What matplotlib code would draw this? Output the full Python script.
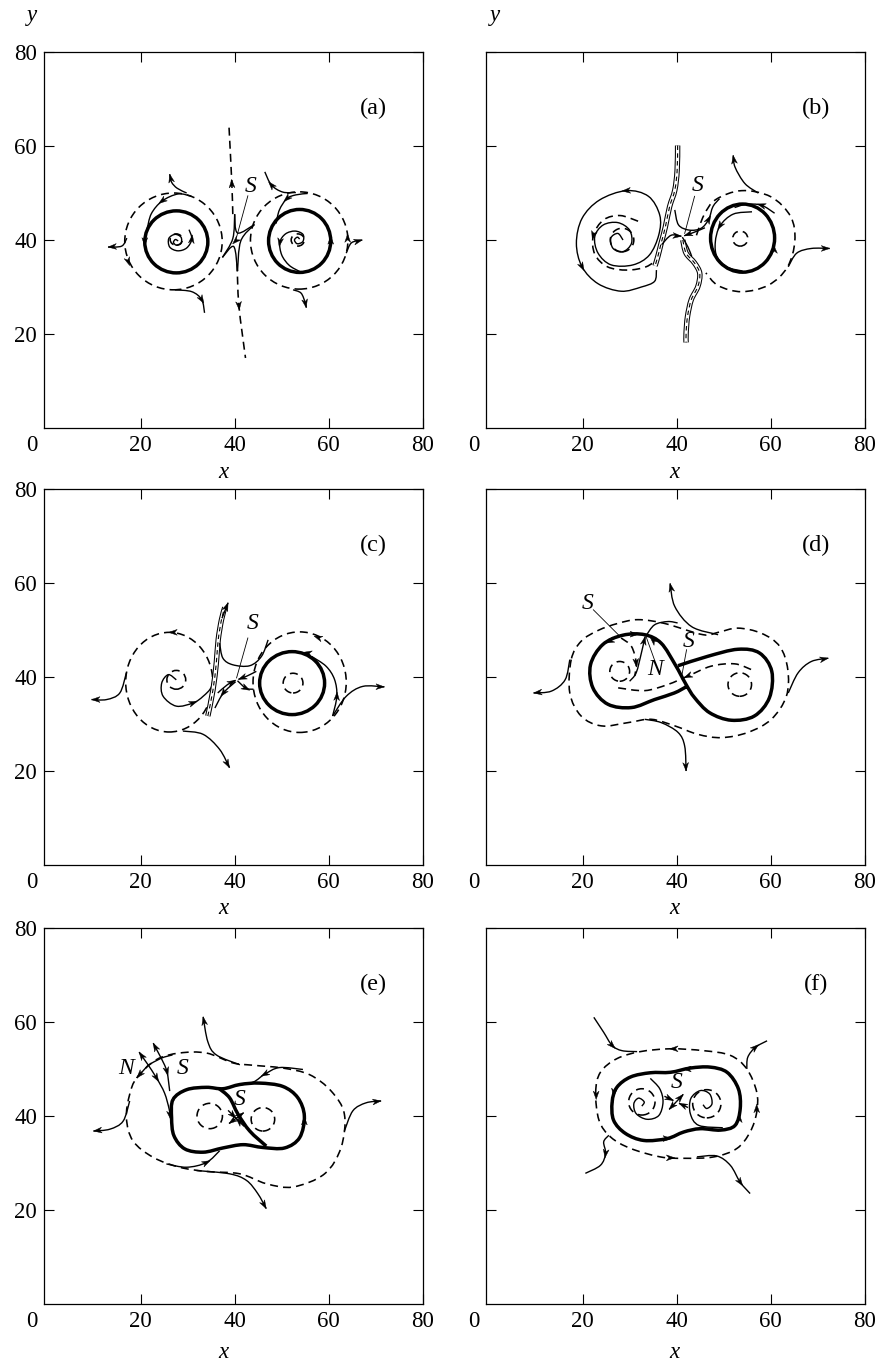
import numpy as np
import matplotlib
matplotlib.use("Agg")
import matplotlib.pyplot as plt
from matplotlib.path import Path
from matplotlib.patches import PathPatch, Ellipse, Polygon

plt.rcParams["font.family"] = ["Liberation Serif", "DejaVu Serif"]

# ---------------------------------------------------------------- panel (a)
a_rings = [
    (27.6, 39.6, 13.4, 13.2, "thick"),
    (27.0, 39.7, 20.7, 20.6, "dash"),
    (27.6, 40.1, 2.6, 2.4, "dash"),
    (53.8, 39.8, 13.2, 13.4, "thick"),
    (53.7, 39.9, 20.7, 20.7, "dash"),
    (53.4, 40.0, 2.8, 2.6, "dash"),
]
a_lines = [
    ([(30.8, 49.3), (28.0, 49.8), (24.6, 48.3), (22.3, 45.6), (21.4, 42.3)], "thin", [2]),
    ([(29.8, 50.0), (27.8, 51.0), (26.6, 52.3), (26.2, 54.0)], "thin", [3]),
    ([(17.1, 40.4), (16.0, 38.7), (13.1, 38.5)], "thin", [2]),
    ([(27.3, 29.4), (30.9, 29.0), (33.0, 27.3), (33.6, 24.5)], "thin", [2]),
    ([(28.0, 39.8), (27.4, 40.1), (27.0, 39.5), (27.6, 38.9), (28.6, 39.3), (28.6, 40.6),
      (27.3, 41.2), (26.0, 40.3), (26.2, 38.5), (27.9, 37.7), (29.8, 38.3), (30.9, 40.2),
      (30.3, 42.2)], "thin", [11]),
    ([(39.6, 45.5), (39.4, 52.0), (38.8, 64.0)], "dash", [1]),
    ([(40.5, 35.0), (40.9, 26.0), (42.3, 14.9)], "dash", [1]),
    ([(40.0, 45.5), (40.6, 41.5), (44.2, 43.3)], "thin", []),
    ([(44.2, 43.3), (41.3, 39.8), (40.6, 33.4)], "thin", []),
    ([(40.6, 33.4), (39.8, 38.6), (37.4, 36.3)], "thin", []),
    ([(37.4, 36.3), (39.6, 40.3), (40.0, 45.5)], "thin", []),
    ([(55.5, 49.9), (53.0, 49.6), (51.1, 48.8), (49.5, 46.4), (48.8, 43.5)], "thin", [2]),
    ([(53.0, 50.1), (50.2, 50.2), (47.8, 51.7), (46.4, 54.5)], "thin", [2]),
    ([(63.7, 37.2), (64.8, 39.4), (67.1, 40.0)], "thin", [2]),
    ([(52.4, 29.4), (54.1, 28.7), (55.0, 26.6), (55.2, 25.6)], "thin", [3]),
    ([(53.8, 40.2), (53.3, 40.6), (52.7, 40.0), (53.3, 39.2), (54.5, 39.7), (54.5, 41.2),
      (52.8, 41.9), (50.8, 41.3), (49.6, 39.5), (50.0, 36.8), (51.6, 34.6), (53.8, 33.3)],
     "thin", [8]),
]
a_heads = [(20.9, 39.6, 270), (17.4, 35.4, 290), (60.4, 40.0, 90), (64.0, 40.4, 90),
           (40.2, 39.8, 225)]
a_letters = [(43.3, 51.3, "S")]
a_leaders = [[(42.8, 49.4), (40.4, 40.6)]]

# ---------------------------------------------------------------- panel (b)
b_rings = [
    (28.4, 40.0, 5.0, 5.0, "dash"),
    (54.0, 40.4, 13.6, 14.5, "thick"),
    (53.5, 40.3, 3.2, 3.2, "dash"),
]
b_lines = [
    ([(28.6, 40.0), (27.5, 41.4), (26.0, 40.4), (26.5, 38.2), (28.6, 37.5), (30.4, 39.3),
      (30.0, 42.1), (27.5, 43.7), (24.4, 43.2), (22.6, 40.7), (23.3, 37.2), (26.1, 34.7),
      (30.7, 34.7), (34.2, 36.8), (36.2, 41.1), (36.4, 45.3), (34.0, 49.3), (29.3, 50.5),
      (23.6, 48.5), (19.9, 44.6), (18.7, 39.3), (19.9, 34.3), (23.3, 30.7), (28.2, 29.1),
      (32.5, 30.0), (35.3, 31.2), (35.7, 33.6)], "thin", [17, 21]),
    ([(31.8, 44.0), (28.0, 45.2), (24.5, 44.3), (22.3, 41.0), (22.6, 37.0), (25.3, 34.3),
      (29.5, 33.6), (33.5, 34.3), (36.0, 36.0)], "dash", [3]),
    ([(40.2, 60.1), (40.1, 54.8), (39.6, 50.6), (38.5, 47.1), (37.6, 42.8), (36.7, 39.3),
      (36.0, 36.5), (35.4, 34.5)], "chan", []),
    ([(41.3, 40.0), (42.0, 37.2), (43.8, 35.1), (44.9, 32.9), (44.5, 30.1), (43.1, 27.3),
      (42.3, 23.7), (42.0, 20.2), (42.0, 18.2)], "chan", []),
    ([(39.6, 46.4), (40.4, 43.2), (42.7, 42.1), (45.2, 42.5), (46.8, 44.4), (47.7, 47.1),
      (49.1, 48.8)], "thin", [4]),
    ([(44.2, 41.0), (45.8, 45.3), (48.3, 48.6), (53.8, 50.5), (60.0, 49.2), (64.2, 45.0),
      (65.1, 39.8), (63.5, 34.2), (59.5, 30.4), (53.8, 29.0), (48.8, 30.3), (46.2, 33.0)],
     "dash", []),
    ([(56.0, 46.0), (52.0, 45.5), (49.2, 43.0), (48.2, 39.5), (48.6, 36.3), (50.8, 34.2),
      (54.0, 33.4)], "thin", [2]),
    ([(60.8, 45.7), (58.0, 47.4), (54.8, 47.6), (52.3, 46.9)], "thin", [1]),
    ([(57.3, 50.0), (54.5, 52.0), (52.4, 55.5), (52.0, 58.0)], "thin", [3]),
    ([(63.7, 34.3), (65.5, 37.2), (68.6, 38.2), (72.5, 38.2)], "thin", [3]),
    ([(36.8, 39.0), (38.8, 41.0), (41.0, 40.8)], "thin", [2]),
    ([(46.0, 42.6), (43.6, 41.6), (41.6, 40.9)], "thin", [2]),
    ([(41.2, 40.6), (42.4, 38.5), (43.2, 36.5)], "thin", []),
]
b_heads = [(60.7, 38.0, 95)]
b_letters = [(44.5, 51.7, "S")]
b_leaders = [[(43.8, 49.3), (41.7, 41.4)]]

# ---------------------------------------------------------------- panel (c)
c_rings = [
    (26.1, 38.9, 18.5, 21.2, "dash"),
    (27.6, 39.4, 4.0, 4.0, "dash"),
    (52.2, 38.7, 13.8, 13.4, "thick"),
    (53.8, 38.9, 19.8, 21.4, "dash"),
    (52.4, 38.7, 4.2, 4.2, "dash"),
]
c_lines = [
    ([(27.6, 39.4), (25.9, 40.5), (24.5, 38.7), (24.8, 35.9), (27.6, 33.8), (31.2, 34.5),
      (33.3, 35.9), (35.1, 38.0), (35.6, 41.6)], "thin", [5]),
    ([(34.3, 31.7), (35.4, 37.3), (36.1, 43.0), (36.5, 47.9), (37.2, 52.2), (37.9, 54.8)],
     "chan", []),
    ([(37.3, 52.5), (38.6, 55.8)], "thin", [1]),
    ([(36.8, 47.2), (37.5, 44.0), (39.6, 42.6), (43.2, 42.4), (45.7, 44.4), (47.1, 47.9)],
     "thin", []),
    ([(36.4, 36.6), (38.5, 38.4), (40.2, 39.3)], "thin", [2]),
    ([(44.6, 41.2), (42.6, 40.2), (40.8, 39.5)], "thin", [2]),
    ([(40.2, 39.0), (37.6, 36.6), (35.8, 33.4)], "thin", [1]),
    ([(40.6, 39.2), (42.4, 37.6), (44.0, 37.4)], "thin", [1]),
    ([(60.8, 31.7), (61.7, 35.9), (61.2, 39.5), (59.4, 42.3), (56.3, 44.4)], "thin", [1]),
    ([(60.8, 31.7), (63.7, 35.9), (67.2, 38.0), (71.8, 37.9)], "thin", [3]),
    ([(17.0, 40.9), (15.6, 36.6), (12.8, 35.2), (9.6, 35.2)], "thin", [3]),
    ([(29.0, 28.5), (33.3, 27.8), (36.8, 24.6), (38.9, 20.7)], "thin", [3]),
]
c_heads = [(26.9, 49.5, 180), (55.5, 45.1, 170), (57.7, 48.4, 160)]
c_letters = [(43.9, 51.4, "S")]
c_leaders = [[(42.8, 48.3), (40.4, 39.8)]]

# ---------------------------------------------------------------- panel (d)
d_rings = [(27.9, 41.2, 4.2, 4.2, "dash"), (53.4, 38.4, 5.0, 5.0, "dash")]
d_lines = [
    ([(40.3, 42.4), (46.6, 44.4), (53.0, 45.9), (57.6, 45.1), (60.2, 41.2), (59.7, 35.6),
      (56.5, 31.7), (51.6, 30.8), (47.0, 32.4), (43.8, 35.6), (42.0, 38.4), (39.7, 42.6),
      (36.7, 47.2), (33.2, 49.0), (28.6, 48.9), (24.3, 46.9), (21.7, 42.6), (22.2, 37.7),
      (25.4, 34.2), (30.4, 33.5), (35.3, 35.2), (39.5, 36.6), (42.0, 37.9)], "thick", []),
    ([(17.6, 43.7), (17.3, 36.6), (19.7, 31.7), (24.0, 29.6), (29.7, 30.3), (34.6, 31.0),
      (39.6, 29.6), (44.5, 27.8), (49.5, 27.1), (55.1, 28.2), (60.1, 31.0), (63.3, 35.9),
      (63.6, 41.6), (61.9, 46.5), (58.0, 49.3), (53.0, 50.4), (48.8, 49.5), (45.6, 49.0),
      (37.4, 51.4), (31.8, 52.2), (27.5, 51.4), (23.3, 49.9), (19.7, 47.6), (17.6, 43.7)],
     "dash", []),
    ([(55.8, 41.6), (52.3, 42.8), (47.3, 42.3), (42.4, 40.2), (38.1, 38.4), (33.2, 37.1),
      (27.5, 37.7)], "dash", [3]),
    ([(28.2, 48.3), (30.4, 46.5), (31.4, 43.0), (31.1, 40.2)], "dash", [2]),
    ([(30.0, 39.1), (31.4, 40.9), (32.5, 45.1), (33.3, 48.6)], "thin", [3]),
    ([(33.5, 48.8), (35.3, 51.1), (38.1, 51.8), (40.2, 51.5)], "thin", []),
    ([(48.8, 49.0), (43.2, 50.7), (39.6, 55.0), (38.6, 59.9)], "thin", [3]),
    ([(17.3, 43.7), (16.3, 39.4), (13.4, 37.0), (9.6, 36.6)], "thin", [3]),
    ([(63.7, 36.6), (65.8, 40.9), (68.6, 43.3), (72.2, 44.0)], "thin", [3]),
    ([(33.2, 31.0), (36.7, 30.3), (40.3, 28.2), (41.7, 25.3), (42.0, 20.0)], "thin", [4]),
]
d_heads = [(25.8, 47.6, 205), (31.0, 49.1, 0), (35.0, 47.8, 135)]
d_letters = [(21.0, 55.7, "S"), (35.5, 41.6, "N"), (42.5, 47.6, "S")]
d_leaders = [[(22.3, 54.3), (28.0, 48.6)], [(35.3, 43.6), (33.5, 48.6)],
             [(42.1, 45.8), (41.0, 39.8)]]

# ---------------------------------------------------------------- panel (e)
e_rings = [(34.7, 40.0, 5.4, 5.4, "dash"), (46.0, 39.3, 5.0, 5.0, "dash")]
e_lines = [
    ([(26.9, 43.5), (29.8, 45.6), (34.0, 46.1), (37.5, 45.8), (41.1, 46.7), (45.3, 47.0),
      (50.2, 46.3), (53.4, 43.9), (54.8, 40.0), (53.8, 35.4), (50.6, 33.2), (46.0, 33.3),
      (41.8, 33.9), (37.5, 33.2), (33.3, 32.3), (29.4, 33.0), (27.1, 35.8), (26.6, 39.6),
      (26.9, 43.5)], "thick", []),
    ([(36.6, 45.9), (38.9, 43.9), (40.7, 40.4), (43.2, 36.8), (46.7, 33.6)], "thick", []),
    ([(19.2, 48.1), (23.4, 52.0), (28.3, 53.4), (34.0, 53.4), (39.6, 51.3), (43.9, 50.8),
      (50.2, 50.2), (55.9, 48.8), (60.5, 45.3), (63.3, 40.4), (62.6, 33.3), (59.1, 27.7),
      (52.4, 24.9), (46.7, 25.6), (41.1, 27.7), (34.0, 28.2), (28.3, 29.1), (22.7, 31.2),
      (18.4, 34.7), (17.0, 39.6), (17.7, 44.6), (19.2, 48.1)], "dash", []),
    ([(21.6, 50.9), (19.7, 53.6)], "thin", [1]),
    ([(21.6, 50.9), (23.4, 48.1), (25.1, 44.9), (26.1, 41.4), (26.4, 39.3)], "thin", [1, 4]),
    ([(24.4, 52.3), (22.7, 55.5)], "thin", [1]),
    ([(24.4, 52.3), (25.6, 49.5), (26.2, 45.3)], "thin", [1]),
    ([(21.6, 50.8), (19.2, 48.1)], "thin", [1]),
    ([(26.8, 53.0), (24.4, 52.3), (21.6, 50.8)], "thin", []),
    ([(41.1, 50.9), (36.1, 53.0), (34.3, 55.8), (33.3, 61.1)], "thin", [3]),
    ([(63.3, 36.8), (65.1, 41.1), (67.9, 42.8), (71.1, 43.2)], "thin", [3]),
    ([(17.7, 43.2), (16.3, 38.9), (13.5, 37.2), (10.0, 36.8)], "thin", [3]),
    ([(31.9, 28.4), (38.9, 27.7), (42.5, 26.3), (44.9, 23.5), (46.7, 20.3)], "thin", [4]),
    ([(25.5, 29.8), (29.8, 29.1), (34.0, 30.1), (36.8, 32.6)], "thin", [2]),
    ([(54.5, 49.9), (49.5, 50.3), (46.4, 48.9), (43.9, 47.2), (40.4, 46.5)], "thin", [2]),
    ([(38.6, 41.2), (40.3, 39.5)], "thin", [1]),
    ([(42.0, 37.8), (40.3, 39.5)], "thin", [1]),
    ([(40.3, 39.5), (38.8, 38.4)], "thin", [1]),
    ([(40.3, 39.5), (41.9, 40.7)], "thin", [1]),
]
e_heads = [(54.8, 39.0, 90)]
e_letters = [(17.0, 50.2, "N"), (29.0, 50.2, "S"), (41.1, 43.5, "S")]
e_leaders = []

# ---------------------------------------------------------------- panel (f)
f_rings = [(32.6, 43.0, 5.6, 5.6, "dash"), (46.4, 42.6, 6.0, 6.0, "dash")]
f_lines = [
    ([(26.3, 43.0), (27.3, 46.1), (30.2, 48.3), (34.4, 49.2), (38.7, 49.3), (42.9, 50.2),
      (47.1, 50.4), (50.7, 49.3), (53.1, 45.8), (53.5, 41.6), (52.4, 38.0), (49.3, 37.0),
      (45.0, 37.3), (41.5, 36.6), (38.0, 35.2), (33.0, 34.8), (29.1, 36.3), (26.6, 39.1),
      (26.3, 43.0)], "thick", []),
    ([(22.8, 45.1), (23.8, 49.3), (27.3, 52.2), (32.3, 53.7), (38.7, 54.3), (45.7, 53.9),
      (51.4, 52.9), (54.9, 50.0), (57.0, 45.1), (57.0, 40.8), (55.6, 36.6), (52.8, 33.1),
      (47.9, 31.3), (41.5, 31.0), (36.5, 31.3), (30.2, 33.1), (26.0, 35.5), (23.5, 39.1),
      (22.8, 45.1)], "dash", []),
    ([(34.4, 48.0), (36.4, 45.8), (37.1, 43.0), (36.2, 40.1), (33.7, 39.3), (31.4, 40.5),
      (30.9, 42.6), (31.9, 43.8), (33.1, 43.0), (32.6, 42.1)], "thin", []),
    ([(49.8, 37.5), (44.7, 38.0), (42.9, 40.5), (43.0, 43.7), (45.0, 45.4), (47.0, 44.7),
      (47.5, 42.6), (46.4, 41.6), (45.6, 42.4)], "thin", []),
    ([(22.4, 61.0), (24.5, 57.8), (26.3, 55.0), (28.4, 53.9), (31.6, 53.7)], "thin", [2]),
    ([(54.9, 50.0), (55.1, 52.5), (56.7, 54.6), (59.2, 56.0)], "thin", [2]),
    ([(25.6, 35.9), (24.5, 34.5), (24.9, 32.0), (23.8, 29.5), (20.6, 27.8)], "thin", [2]),
    ([(44.3, 31.3), (48.5, 31.5), (51.4, 29.5), (53.5, 25.9), (55.6, 23.5)], "thin", [3]),
    ([(37.4, 44.2), (39.3, 43.3)], "thin", [1]),
    ([(42.4, 41.8), (40.5, 42.7)], "thin", [1]),
    ([(39.9, 43.0), (38.4, 41.4)], "thin", [1]),
    ([(39.9, 43.0), (41.4, 44.6)], "thin", [1]),
]
f_heads = [(39.4, 54.3, 180), (22.9, 44.4, 270), (38.7, 31.1, 0), (57.0, 41.6, 90),
           (42.2, 50.0, 180), (38.0, 35.2, 0), (26.7, 45.0, 265), (53.3, 39.5, 90)]
f_letters = [(39.9, 47.2, "S")]
f_leaders = []

panel_tags = ["(a)", "(b)", "(c)", "(d)", "(e)", "(f)"]
x_ticks = [20, 40, 60, 80]
y_ticks = [20, 40, 60, 80]

STYLE = {
    "thick": dict(lw=2.5, ls="-"),
    "thin": dict(lw=1.0, ls="-"),
    "dash": dict(lw=1.15, ls=(0, (5, 3.2))),
}
HEAD_L, HEAD_W = 1.8, 0.62


def smooth_path(pts):
    # Catmull-Rom through the given points, written as cubic Bezier segments
    p = np.asarray(pts, float)
    closed = len(p) > 2 and np.allclose(p[0], p[-1])
    if closed:
        p = p[:-1]
        ext = np.vstack([p[-1], p, p[0], p[1]])
        nseg = len(p)
    else:
        ext = np.vstack([p[0], p, p[-1]])
        nseg = len(p) - 1
    verts, codes = [ext[1]], [Path.MOVETO]
    for i in range(nseg):
        p0, p1, p2, p3 = ext[i], ext[i + 1], ext[i + 2], ext[i + 3]
        verts += [p1 + (p2 - p0) / 6, p2 - (p3 - p1) / 6, p2]
        codes += [Path.CURVE4] * 3
    return Path(verts, codes)


def head(ax, tip, d):
    d = np.asarray(d, float)
    d = d / np.hypot(*d)
    n = np.array([-d[1], d[0]])
    tip = np.asarray(tip, float)
    poly = [tip, tip - d * HEAD_L + n * HEAD_W, tip - d * HEAD_L * 0.7,
            tip - d * HEAD_L - n * HEAD_W]
    ax.add_patch(Polygon(poly, closed=True, fc="k", ec="k", lw=0.3, zorder=5))


def draw_line(ax, pts, kind, arrows):
    path = smooth_path(pts)
    if kind == "chan":
        ax.add_patch(PathPatch(path, fill=False, lw=3.9, ec="k", capstyle="butt", zorder=3))
        ax.add_patch(PathPatch(path, fill=False, lw=2.4, ec="w", capstyle="butt", zorder=3))
        ax.add_patch(PathPatch(path, fill=False, lw=0.8, ec="k", ls=(0, (4, 3)), zorder=3))
    else:
        ax.add_patch(PathPatch(path, fill=False, ec="k", zorder=3, **STYLE[kind]))
    p = np.asarray(pts, float)
    for i in arrows:
        if i == len(p) - 1:
            head(ax, p[-1], p[-1] - p[-2])
        else:
            d = p[i + 1] - p[i - 1]
            d = d / np.hypot(*d)
            head(ax, p[i] + d * HEAD_L / 2, d)


def draw_panel(ax, rings, lines, heads, letters, leaders, tag, ylabels):
    ax.set_xlim(-0.5, 80)
    ax.set_ylim(0, 80)
    for cx, cy, w, h, kind in rings:
        ax.add_patch(Ellipse((cx, cy), w, h, fill=False, ec="k", zorder=3, **STYLE[kind]))
    for pts, kind, arrows in lines:
        draw_line(ax, pts, kind, arrows)
    for x, y, ang in heads:
        d = np.array([np.cos(np.radians(ang)), np.sin(np.radians(ang))])
        head(ax, np.array([x, y]) + d * HEAD_L / 2, d)
    for x, y, s in letters:
        ax.text(x, y, s, fontsize=17, style="italic", ha="center", va="center", zorder=6)
    for seg in leaders:
        xs, ys = zip(*seg)
        ax.plot(xs, ys, color="k", lw=0.6, zorder=4)
    ax.text(69.5, 68.0, tag, fontsize=17.5, ha="center", va="center")

    ax.set_xticks(x_ticks)
    ax.set_xticklabels([str(v) for v in x_ticks])
    ax.set_yticks(y_ticks)
    ax.set_yticklabels([str(v) for v in y_ticks] if ylabels else [])
    ax.tick_params(direction="in", length=7, width=0.8, top=True, right=True,
                   labelsize=16.5, pad=5)
    for sp in ax.spines.values():
        sp.set_linewidth(0.9)
    ax.text(-0.032, -0.0185, "0", transform=ax.transAxes, fontsize=16.5,
            ha="center", va="top")


W, H = 877, 1365
fig = plt.figure(figsize=(W / 100, H / 100), dpi=100)

cols = [44, 486]
rows = [428, 865, 1304]
panels = [
    (a_rings, a_lines, a_heads, a_letters, a_leaders),
    (b_rings, b_lines, b_heads, b_letters, b_leaders),
    (c_rings, c_lines, c_heads, c_letters, c_leaders),
    (d_rings, d_lines, d_heads, d_letters, d_leaders),
    (e_rings, e_lines, e_heads, e_letters, e_leaders),
    (f_rings, f_lines, f_heads, f_letters, f_leaders),
]
for k, data in enumerate(panels):
    r, c = divmod(k, 2)
    ax = fig.add_axes([cols[c] / W, (H - rows[r]) / H, 379 / W, 376 / H])
    draw_panel(ax, *data, panel_tags[k], ylabels=(c == 0))

# axis names
for px in (32, 495):
    fig.text(px / W, 1 - 15 / H, "y", fontsize=16.5, style="italic", ha="center", va="center")
for py in (472, 908, 1353):
    for px in (223, 674):
        fig.text(px / W, 1 - py / H, "x", fontsize=16.5, style="italic", ha="center",
                 va="center")

fig.savefig("out.png", dpi=100)
